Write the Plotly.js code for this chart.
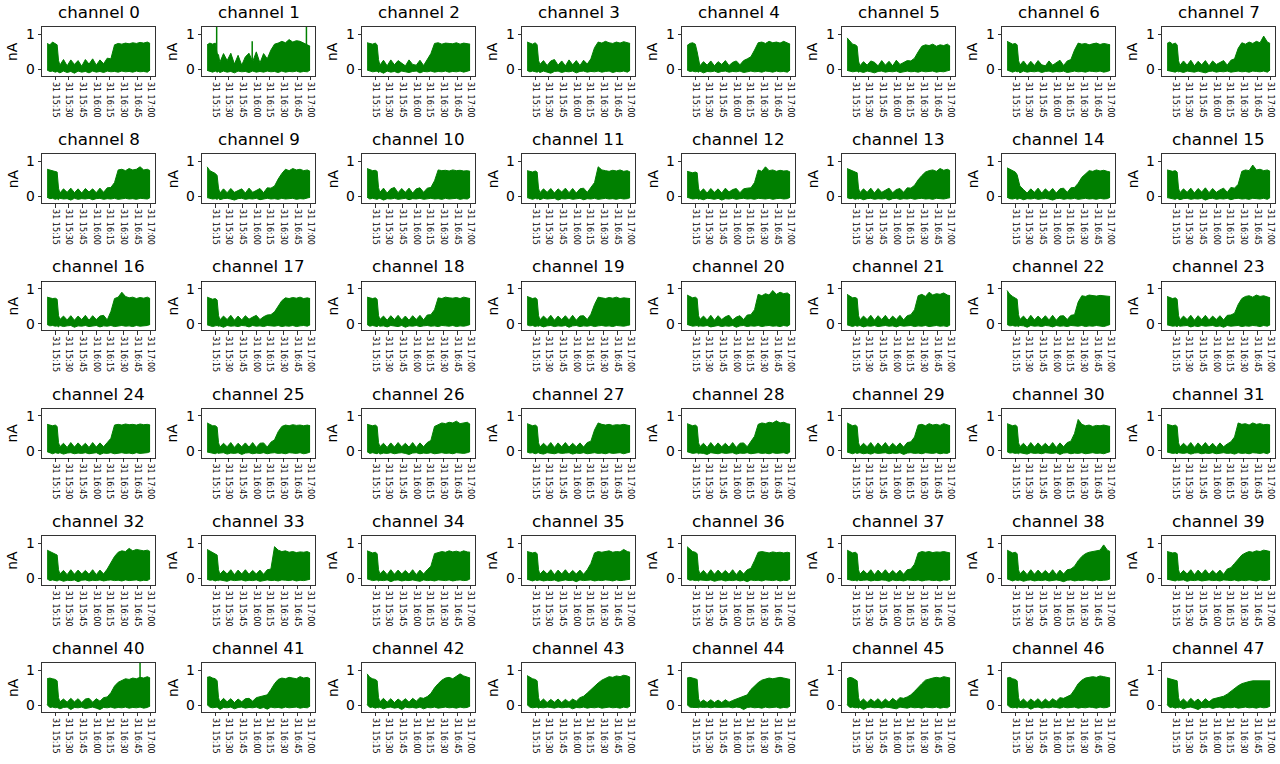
<!DOCTYPE html>
<html>
<head>
<meta charset="utf-8">
<script src="https://cdn.plot.ly/plotly-3.0.1.min.js"></script>
<style>html,body{margin:0;padding:0;background:#fff;}#chart{width:1280px;height:764px;}</style>
</head>
<body>
<div id="chart"></div>
<script>
// ---- data: per-bin upper / lower envelope of each channel's current (nA) ----
const DAY = '2021-05-31 ';
const times = ['15:06:00','15:09:00','15:12:00','15:15:00','15:17:00','15:18:30','15:20:00','15:24:00','15:28:00','15:32:00','15:36:00','15:40:00','15:44:00','15:48:00','15:52:00','15:56:00','16:00:00','16:04:00','16:08:00','16:12:00','16:16:00','16:20:00','16:24:00','16:28:00','16:32:00','16:36:00','16:40:00','16:44:00','16:48:00','16:52:00','16:56:00','16:59:00'];
const tickLabels = ['31 15:15','31 15:30','31 15:45','31 16:00','31 16:15','31 16:30','31 16:45','31 17:00'];
const tickTimes = ['15:15:00','15:30:00','15:45:00','16:00:00','16:15:00','16:30:00','16:45:00','17:00:00'];

const ch0_hi=[0.74,0.70,0.78,0.72,0.70,0.26,0.12,0.28,0.10,0.27,0.14,0.25,0.09,0.28,0.15,0.30,0.12,0.27,0.16,0.32,0.30,0.70,0.74,0.72,0.75,0.73,0.76,0.74,0.77,0.75,0.78,0.74];
const ch0_lo=[-0.02,-0.06,-0.05,-0.08,-0.06,-0.08,-0.10,-0.05,-0.09,-0.06,-0.11,-0.05,-0.08,-0.06,-0.10,-0.05,-0.08,-0.06,-0.09,-0.05,-0.07,-0.06,-0.08,-0.05,-0.07,-0.06,-0.08,-0.05,-0.07,-0.06,-0.08,-0.02];
const ch1_hi=[0.70,0.75,0.72,0.75,0.45,0.42,0.20,0.45,0.25,0.46,0.15,0.40,0.12,0.36,0.46,0.22,0.50,0.18,0.45,0.30,0.55,0.72,0.75,0.80,0.76,0.85,0.78,0.82,0.80,0.76,0.70,0.66];
const ch1_lo=[-0.03,-0.06,-0.08,-0.05,-0.08,-0.06,-0.09,-0.05,-0.08,-0.06,-0.10,-0.05,-0.07,-0.06,-0.09,-0.05,-0.08,-0.06,-0.08,-0.05,-0.07,-0.06,-0.09,-0.05,-0.08,-0.06,-0.07,-0.05,-0.08,-0.06,-0.07,-0.02];
const ch2_hi=[0.76,0.74,0.72,0.75,0.70,0.28,0.12,0.26,0.10,0.27,0.13,0.25,0.18,0.10,0.27,0.14,0.12,0.26,0.11,0.28,0.45,0.74,0.76,0.72,0.75,0.74,0.73,0.76,0.72,0.75,0.74,0.72];
const ch2_lo=[-0.02,-0.05,-0.07,-0.06,-0.05,-0.09,-0.06,-0.11,-0.05,-0.08,-0.06,-0.10,-0.05,-0.07,-0.09,-0.06,-0.05,-0.10,-0.06,-0.07,-0.05,-0.08,-0.06,-0.07,-0.05,-0.08,-0.06,-0.07,-0.05,-0.08,-0.06,-0.03];
const ch3_hi=[0.78,0.75,0.72,0.76,0.70,0.26,0.14,0.25,0.11,0.24,0.28,0.12,0.24,0.10,0.27,0.13,0.25,0.11,0.26,0.15,0.30,0.62,0.78,0.75,0.80,0.76,0.74,0.78,0.75,0.79,0.76,0.74];
const ch3_lo=[-0.03,-0.07,-0.05,-0.06,-0.08,-0.06,-0.09,-0.05,-0.07,-0.11,-0.06,-0.05,-0.09,-0.06,-0.07,-0.05,-0.10,-0.06,-0.05,-0.08,-0.06,-0.07,-0.05,-0.08,-0.06,-0.05,-0.09,-0.06,-0.07,-0.05,-0.08,-0.03];
const ch4_hi=[0.68,0.74,0.76,0.72,0.50,0.28,0.10,0.22,0.12,0.24,0.10,0.22,0.14,0.25,0.11,0.20,0.24,0.13,0.25,0.30,0.36,0.55,0.76,0.78,0.74,0.80,0.76,0.78,0.75,0.80,0.76,0.72];
const ch4_lo=[-0.02,-0.06,-0.05,-0.07,-0.06,-0.08,-0.05,-0.10,-0.06,-0.07,-0.05,-0.09,-0.06,-0.05,-0.08,-0.06,-0.07,-0.05,-0.09,-0.06,-0.05,-0.07,-0.06,-0.08,-0.05,-0.06,-0.08,-0.05,-0.07,-0.06,-0.08,-0.02];
const ch5_hi=[0.90,0.80,0.72,0.70,0.66,0.24,0.10,0.22,0.12,0.24,0.20,0.10,0.25,0.12,0.23,0.10,0.26,0.14,0.20,0.25,0.24,0.32,0.50,0.66,0.70,0.68,0.72,0.66,0.70,0.68,0.72,0.66];
const ch5_lo=[-0.03,-0.05,-0.07,-0.06,-0.05,-0.08,-0.06,-0.09,-0.05,-0.07,-0.10,-0.06,-0.05,-0.08,-0.06,-0.07,-0.05,-0.09,-0.06,-0.05,-0.07,-0.06,-0.08,-0.05,-0.07,-0.06,-0.05,-0.08,-0.06,-0.07,-0.05,-0.02];
const ch6_hi=[0.80,0.76,0.72,0.74,0.70,0.26,0.12,0.24,0.10,0.23,0.11,0.25,0.13,0.10,0.24,0.12,0.20,0.26,0.11,0.24,0.28,0.55,0.75,0.72,0.74,0.70,0.73,0.75,0.71,0.74,0.72,0.70];
const ch6_lo=[-0.02,-0.06,-0.08,-0.05,-0.07,-0.06,-0.10,-0.05,-0.08,-0.06,-0.07,-0.05,-0.09,-0.06,-0.05,-0.08,-0.06,-0.07,-0.05,-0.09,-0.06,-0.05,-0.07,-0.06,-0.08,-0.05,-0.06,-0.07,-0.05,-0.08,-0.06,-0.03];
const ch7_hi=[0.74,0.78,0.72,0.75,0.70,0.25,0.11,0.24,0.12,0.26,0.10,0.23,0.13,0.25,0.10,0.24,0.14,0.19,0.25,0.12,0.26,0.30,0.60,0.76,0.72,0.78,0.74,0.80,0.76,0.95,0.78,0.74];
const ch7_lo=[-0.03,-0.05,-0.06,-0.08,-0.05,-0.07,-0.06,-0.09,-0.05,-0.06,-0.08,-0.05,-0.07,-0.10,-0.06,-0.05,-0.08,-0.06,-0.07,-0.05,-0.08,-0.06,-0.05,-0.07,-0.06,-0.08,-0.05,-0.06,-0.07,-0.05,-0.08,-0.02];

const ch8_hi=[0.78,0.76,0.74,0.72,0.70,0.24,0.10,0.22,0.12,0.24,0.11,0.22,0.10,0.23,0.13,0.22,0.11,0.24,0.12,0.25,0.26,0.40,0.76,0.78,0.74,0.80,0.76,0.78,0.85,0.76,0.78,0.74];
const ch8_lo=[-0.02,-0.06,-0.05,-0.08,-0.06,-0.09,-0.05,-0.07,-0.06,-0.10,-0.05,-0.08,-0.06,-0.07,-0.05,-0.09,-0.06,-0.05,-0.08,-0.06,-0.07,-0.05,-0.08,-0.06,-0.05,-0.07,-0.06,-0.08,-0.05,-0.06,-0.07,-0.03];
const ch9_hi=[0.85,0.74,0.70,0.66,0.60,0.24,0.10,0.22,0.11,0.23,0.12,0.17,0.22,0.10,0.24,0.12,0.18,0.23,0.11,0.25,0.24,0.30,0.50,0.66,0.78,0.74,0.80,0.76,0.78,0.74,0.76,0.72];
const ch9_lo=[-0.03,-0.05,-0.07,-0.06,-0.08,-0.05,-0.09,-0.06,-0.05,-0.07,-0.10,-0.06,-0.05,-0.08,-0.06,-0.07,-0.05,-0.09,-0.06,-0.05,-0.07,-0.06,-0.08,-0.05,-0.07,-0.06,-0.05,-0.08,-0.06,-0.07,-0.05,-0.02];
const ch10_hi=[0.80,0.76,0.74,0.75,0.72,0.26,0.12,0.24,0.10,0.22,0.26,0.11,0.23,0.12,0.24,0.10,0.22,0.25,0.12,0.24,0.26,0.45,0.76,0.74,0.75,0.73,0.76,0.74,0.75,0.73,0.74,0.72];
const ch10_lo=[-0.02,-0.07,-0.05,-0.06,-0.08,-0.06,-0.05,-0.10,-0.06,-0.07,-0.05,-0.08,-0.06,-0.05,-0.09,-0.06,-0.07,-0.05,-0.08,-0.06,-0.05,-0.07,-0.06,-0.08,-0.05,-0.07,-0.06,-0.05,-0.08,-0.06,-0.07,-0.02];
const ch11_hi=[0.74,0.72,0.70,0.73,0.70,0.24,0.11,0.22,0.12,0.23,0.10,0.22,0.13,0.24,0.11,0.23,0.10,0.22,0.24,0.12,0.25,0.40,0.85,0.76,0.74,0.72,0.75,0.73,0.76,0.72,0.74,0.70];
const ch11_lo=[-0.03,-0.06,-0.08,-0.05,-0.07,-0.06,-0.09,-0.05,-0.07,-0.06,-0.05,-0.10,-0.06,-0.07,-0.05,-0.08,-0.06,-0.05,-0.09,-0.06,-0.07,-0.05,-0.08,-0.06,-0.05,-0.07,-0.06,-0.08,-0.05,-0.07,-0.06,-0.03];
const ch12_hi=[0.72,0.70,0.68,0.70,0.68,0.24,0.12,0.22,0.10,0.23,0.12,0.22,0.10,0.24,0.13,0.20,0.23,0.11,0.22,0.24,0.25,0.40,0.76,0.72,0.85,0.74,0.76,0.72,0.75,0.73,0.74,0.70];
const ch12_lo=[-0.02,-0.05,-0.07,-0.06,-0.05,-0.08,-0.06,-0.09,-0.05,-0.06,-0.08,-0.05,-0.10,-0.06,-0.07,-0.05,-0.08,-0.06,-0.05,-0.07,-0.06,-0.08,-0.05,-0.06,-0.07,-0.05,-0.08,-0.06,-0.05,-0.07,-0.06,-0.02];
const ch13_hi=[0.80,0.76,0.72,0.70,0.68,0.24,0.11,0.22,0.12,0.24,0.10,0.23,0.12,0.18,0.24,0.11,0.20,0.23,0.12,0.25,0.24,0.32,0.48,0.60,0.70,0.74,0.76,0.72,0.80,0.75,0.78,0.74];
const ch13_lo=[-0.03,-0.06,-0.05,-0.08,-0.06,-0.07,-0.05,-0.09,-0.06,-0.05,-0.08,-0.06,-0.07,-0.05,-0.10,-0.06,-0.05,-0.08,-0.06,-0.07,-0.05,-0.08,-0.06,-0.05,-0.07,-0.06,-0.08,-0.05,-0.06,-0.07,-0.05,-0.03];
const ch14_hi=[0.82,0.78,0.74,0.70,0.62,0.45,0.30,0.20,0.10,0.22,0.12,0.24,0.10,0.22,0.12,0.23,0.10,0.22,0.24,0.12,0.25,0.26,0.38,0.55,0.66,0.74,0.72,0.76,0.73,0.75,0.72,0.70];
const ch14_lo=[-0.02,-0.06,-0.07,-0.05,-0.08,-0.06,-0.05,-0.09,-0.06,-0.07,-0.05,-0.08,-0.06,-0.05,-0.07,-0.10,-0.06,-0.05,-0.08,-0.06,-0.07,-0.05,-0.08,-0.06,-0.05,-0.07,-0.06,-0.08,-0.05,-0.07,-0.06,-0.02];
const ch15_hi=[0.76,0.75,0.72,0.74,0.70,0.24,0.11,0.22,0.12,0.24,0.10,0.23,0.13,0.25,0.11,0.23,0.12,0.19,0.24,0.12,0.26,0.24,0.35,0.72,0.76,0.74,0.90,0.76,0.78,0.74,0.76,0.72];
const ch15_lo=[-0.03,-0.05,-0.06,-0.08,-0.05,-0.07,-0.09,-0.06,-0.05,-0.08,-0.06,-0.07,-0.05,-0.10,-0.06,-0.05,-0.08,-0.06,-0.07,-0.05,-0.09,-0.06,-0.05,-0.07,-0.06,-0.08,-0.05,-0.06,-0.07,-0.05,-0.08,-0.03];

const ch16_hi=[0.76,0.74,0.72,0.73,0.70,0.24,0.12,0.22,0.11,0.23,0.10,0.22,0.12,0.24,0.10,0.23,0.12,0.22,0.24,0.11,0.35,0.72,0.76,0.90,0.78,0.74,0.76,0.72,0.75,0.73,0.76,0.72];
const ch16_lo=[-0.02,-0.06,-0.05,-0.07,-0.06,-0.09,-0.05,-0.08,-0.06,-0.05,-0.10,-0.06,-0.07,-0.05,-0.08,-0.06,-0.05,-0.09,-0.06,-0.07,-0.05,-0.08,-0.06,-0.05,-0.07,-0.06,-0.08,-0.05,-0.07,-0.06,-0.05,-0.02];
const ch17_hi=[0.76,0.74,0.70,0.72,0.68,0.24,0.11,0.22,0.12,0.24,0.10,0.22,0.11,0.23,0.13,0.19,0.24,0.12,0.20,0.25,0.26,0.34,0.52,0.66,0.74,0.72,0.75,0.73,0.76,0.72,0.74,0.72];
const ch17_lo=[-0.03,-0.05,-0.08,-0.06,-0.05,-0.07,-0.06,-0.10,-0.05,-0.07,-0.06,-0.08,-0.05,-0.06,-0.09,-0.05,-0.07,-0.06,-0.08,-0.05,-0.06,-0.07,-0.05,-0.08,-0.06,-0.07,-0.05,-0.08,-0.06,-0.05,-0.07,-0.03];
const ch18_hi=[0.76,0.74,0.72,0.74,0.70,0.24,0.12,0.22,0.10,0.23,0.12,0.24,0.11,0.22,0.10,0.23,0.12,0.24,0.11,0.25,0.26,0.40,0.74,0.72,0.76,0.74,0.73,0.75,0.72,0.76,0.74,0.72];
const ch18_lo=[-0.02,-0.07,-0.05,-0.06,-0.08,-0.05,-0.07,-0.06,-0.09,-0.05,-0.06,-0.08,-0.05,-0.10,-0.06,-0.07,-0.05,-0.08,-0.06,-0.05,-0.07,-0.06,-0.08,-0.05,-0.06,-0.07,-0.05,-0.08,-0.06,-0.07,-0.05,-0.02];
const ch19_hi=[0.78,0.75,0.72,0.74,0.70,0.24,0.11,0.22,0.12,0.24,0.10,0.22,0.12,0.23,0.11,0.24,0.10,0.22,0.23,0.12,0.27,0.55,0.76,0.74,0.72,0.75,0.73,0.76,0.72,0.74,0.73,0.72];
const ch19_lo=[-0.03,-0.06,-0.05,-0.08,-0.06,-0.07,-0.05,-0.09,-0.06,-0.05,-0.08,-0.06,-0.07,-0.05,-0.10,-0.06,-0.05,-0.08,-0.06,-0.07,-0.05,-0.08,-0.06,-0.05,-0.07,-0.06,-0.08,-0.05,-0.06,-0.07,-0.05,-0.03];
const ch20_hi=[0.82,0.78,0.74,0.76,0.72,0.24,0.12,0.22,0.11,0.24,0.10,0.23,0.12,0.20,0.24,0.11,0.19,0.23,0.12,0.25,0.26,0.40,0.84,0.80,0.86,0.82,0.95,0.84,0.90,0.86,0.88,0.82];
const ch20_lo=[-0.02,-0.05,-0.07,-0.06,-0.05,-0.08,-0.06,-0.07,-0.05,-0.09,-0.06,-0.05,-0.08,-0.06,-0.07,-0.05,-0.10,-0.06,-0.05,-0.08,-0.06,-0.07,-0.05,-0.08,-0.06,-0.05,-0.07,-0.06,-0.08,-0.05,-0.07,-0.02];
const ch21_hi=[0.84,0.78,0.74,0.75,0.72,0.24,0.11,0.22,0.12,0.24,0.10,0.23,0.12,0.24,0.10,0.22,0.12,0.24,0.11,0.23,0.26,0.40,0.80,0.84,0.78,0.90,0.82,0.86,0.84,0.88,0.82,0.80];
const ch21_lo=[-0.03,-0.06,-0.08,-0.05,-0.07,-0.06,-0.05,-0.09,-0.06,-0.07,-0.05,-0.08,-0.06,-0.05,-0.07,-0.06,-0.09,-0.05,-0.07,-0.06,-0.05,-0.08,-0.06,-0.07,-0.05,-0.08,-0.06,-0.05,-0.07,-0.06,-0.08,-0.03];
const ch22_hi=[0.95,0.84,0.78,0.74,0.70,0.26,0.12,0.22,0.10,0.24,0.11,0.22,0.12,0.23,0.11,0.24,0.10,0.22,0.23,0.12,0.24,0.26,0.62,0.80,0.78,0.82,0.80,0.79,0.81,0.80,0.80,0.78];
const ch22_lo=[-0.02,-0.06,-0.05,-0.07,-0.06,-0.08,-0.05,-0.06,-0.10,-0.05,-0.07,-0.06,-0.08,-0.05,-0.06,-0.09,-0.05,-0.07,-0.06,-0.08,-0.05,-0.06,-0.07,-0.05,-0.08,-0.06,-0.07,-0.05,-0.06,-0.08,-0.05,-0.02];
const ch23_hi=[0.78,0.76,0.72,0.74,0.70,0.24,0.11,0.22,0.12,0.24,0.10,0.23,0.12,0.24,0.11,0.22,0.12,0.23,0.11,0.24,0.25,0.30,0.55,0.72,0.78,0.80,0.76,0.82,0.78,0.80,0.76,0.74];
const ch23_lo=[-0.03,-0.05,-0.07,-0.06,-0.08,-0.05,-0.07,-0.06,-0.05,-0.09,-0.06,-0.08,-0.05,-0.07,-0.06,-0.05,-0.08,-0.06,-0.10,-0.05,-0.07,-0.06,-0.05,-0.08,-0.06,-0.07,-0.05,-0.06,-0.08,-0.05,-0.07,-0.03];

const ch24_hi=[0.76,0.74,0.72,0.74,0.70,0.24,0.12,0.22,0.10,0.24,0.11,0.23,0.12,0.22,0.10,0.24,0.11,0.23,0.12,0.24,0.36,0.74,0.76,0.74,0.77,0.75,0.76,0.74,0.77,0.75,0.76,0.74];
const ch24_lo=[-0.02,-0.06,-0.08,-0.05,-0.06,-0.07,-0.05,-0.09,-0.06,-0.05,-0.08,-0.06,-0.07,-0.05,-0.08,-0.06,-0.05,-0.10,-0.06,-0.07,-0.05,-0.08,-0.06,-0.05,-0.07,-0.06,-0.08,-0.05,-0.07,-0.06,-0.05,-0.02];
const ch25_hi=[0.80,0.76,0.72,0.72,0.68,0.24,0.11,0.22,0.12,0.24,0.10,0.22,0.12,0.23,0.11,0.24,0.10,0.22,0.23,0.11,0.25,0.32,0.55,0.70,0.74,0.72,0.75,0.73,0.74,0.72,0.74,0.72];
const ch25_lo=[-0.03,-0.05,-0.06,-0.08,-0.05,-0.07,-0.06,-0.05,-0.09,-0.06,-0.07,-0.05,-0.10,-0.06,-0.05,-0.08,-0.06,-0.07,-0.05,-0.08,-0.06,-0.05,-0.07,-0.06,-0.08,-0.05,-0.06,-0.07,-0.05,-0.08,-0.06,-0.03];
const ch26_hi=[0.76,0.74,0.72,0.74,0.70,0.24,0.12,0.22,0.10,0.23,0.11,0.24,0.12,0.22,0.11,0.24,0.10,0.23,0.12,0.24,0.30,0.70,0.76,0.80,0.78,0.82,0.80,0.85,0.78,0.80,0.82,0.76];
const ch26_lo=[-0.02,-0.07,-0.05,-0.06,-0.08,-0.05,-0.09,-0.06,-0.07,-0.05,-0.08,-0.06,-0.05,-0.07,-0.10,-0.06,-0.05,-0.08,-0.06,-0.07,-0.05,-0.08,-0.06,-0.05,-0.07,-0.06,-0.08,-0.05,-0.06,-0.07,-0.05,-0.02];
const ch27_hi=[0.78,0.76,0.72,0.74,0.70,0.24,0.11,0.22,0.12,0.24,0.10,0.23,0.12,0.24,0.11,0.22,0.12,0.23,0.11,0.24,0.28,0.60,0.80,0.76,0.74,0.76,0.73,0.75,0.74,0.76,0.73,0.72];
const ch27_lo=[-0.03,-0.06,-0.05,-0.08,-0.06,-0.05,-0.07,-0.09,-0.05,-0.06,-0.08,-0.05,-0.07,-0.06,-0.05,-0.09,-0.06,-0.07,-0.05,-0.08,-0.06,-0.05,-0.07,-0.06,-0.08,-0.05,-0.07,-0.06,-0.05,-0.08,-0.06,-0.03];
const ch28_hi=[0.78,0.76,0.72,0.74,0.70,0.24,0.12,0.22,0.10,0.24,0.11,0.23,0.12,0.22,0.11,0.24,0.10,0.22,0.23,0.12,0.26,0.42,0.76,0.80,0.78,0.82,0.80,0.86,0.80,0.82,0.78,0.76];
const ch28_lo=[-0.02,-0.05,-0.07,-0.06,-0.05,-0.08,-0.06,-0.07,-0.10,-0.05,-0.06,-0.08,-0.05,-0.07,-0.06,-0.05,-0.09,-0.06,-0.07,-0.05,-0.08,-0.06,-0.05,-0.07,-0.06,-0.08,-0.05,-0.07,-0.06,-0.05,-0.08,-0.02];
const ch29_hi=[0.80,0.76,0.72,0.74,0.70,0.24,0.11,0.22,0.12,0.24,0.10,0.23,0.12,0.24,0.10,0.22,0.12,0.23,0.11,0.24,0.26,0.40,0.74,0.76,0.72,0.78,0.74,0.76,0.73,0.78,0.74,0.72];
const ch29_lo=[-0.03,-0.06,-0.08,-0.05,-0.07,-0.06,-0.05,-0.08,-0.06,-0.09,-0.05,-0.07,-0.06,-0.05,-0.08,-0.06,-0.07,-0.05,-0.10,-0.06,-0.05,-0.07,-0.06,-0.08,-0.05,-0.06,-0.07,-0.05,-0.08,-0.06,-0.07,-0.03];
const ch30_hi=[0.78,0.76,0.72,0.74,0.70,0.24,0.12,0.22,0.10,0.24,0.11,0.23,0.12,0.22,0.11,0.24,0.10,0.23,0.12,0.24,0.28,0.50,0.90,0.76,0.72,0.74,0.70,0.73,0.72,0.74,0.71,0.70];
const ch30_lo=[-0.02,-0.06,-0.05,-0.07,-0.06,-0.08,-0.05,-0.06,-0.09,-0.05,-0.07,-0.06,-0.08,-0.05,-0.06,-0.07,-0.05,-0.10,-0.06,-0.05,-0.08,-0.06,-0.07,-0.05,-0.08,-0.06,-0.05,-0.07,-0.06,-0.08,-0.05,-0.02];
const ch31_hi=[0.76,0.74,0.72,0.74,0.70,0.24,0.11,0.22,0.12,0.24,0.10,0.23,0.12,0.24,0.11,0.22,0.10,0.23,0.12,0.20,0.26,0.40,0.80,0.76,0.78,0.74,0.80,0.76,0.78,0.75,0.76,0.74];
const ch31_lo=[-0.03,-0.05,-0.07,-0.06,-0.08,-0.05,-0.06,-0.07,-0.05,-0.09,-0.06,-0.05,-0.08,-0.06,-0.07,-0.05,-0.08,-0.06,-0.05,-0.07,-0.06,-0.09,-0.05,-0.07,-0.06,-0.08,-0.05,-0.06,-0.07,-0.05,-0.08,-0.03];

const ch32_hi=[0.80,0.76,0.72,0.70,0.66,0.24,0.12,0.22,0.10,0.24,0.11,0.23,0.12,0.22,0.11,0.24,0.10,0.23,0.12,0.26,0.45,0.62,0.74,0.78,0.76,0.85,0.78,0.82,0.80,0.78,0.80,0.76];
const ch32_lo=[-0.02,-0.07,-0.05,-0.06,-0.08,-0.06,-0.05,-0.09,-0.06,-0.07,-0.05,-0.10,-0.06,-0.05,-0.08,-0.06,-0.07,-0.05,-0.08,-0.06,-0.05,-0.07,-0.06,-0.08,-0.05,-0.07,-0.06,-0.05,-0.08,-0.06,-0.07,-0.02];
const ch33_hi=[0.82,0.78,0.72,0.70,0.66,0.24,0.11,0.22,0.12,0.24,0.10,0.23,0.12,0.24,0.11,0.22,0.12,0.23,0.11,0.24,0.26,0.90,0.80,0.76,0.78,0.74,0.76,0.73,0.75,0.74,0.76,0.72];
const ch33_lo=[-0.03,-0.06,-0.05,-0.08,-0.06,-0.07,-0.05,-0.06,-0.09,-0.05,-0.07,-0.06,-0.05,-0.08,-0.06,-0.07,-0.05,-0.09,-0.06,-0.05,-0.07,-0.06,-0.08,-0.05,-0.06,-0.07,-0.05,-0.08,-0.06,-0.07,-0.05,-0.03];
const ch34_hi=[0.78,0.76,0.72,0.74,0.70,0.24,0.12,0.22,0.10,0.24,0.11,0.23,0.12,0.22,0.11,0.24,0.10,0.23,0.12,0.24,0.34,0.70,0.74,0.76,0.74,0.78,0.75,0.77,0.74,0.78,0.75,0.74];
const ch34_lo=[-0.02,-0.05,-0.07,-0.06,-0.05,-0.08,-0.06,-0.07,-0.05,-0.10,-0.06,-0.05,-0.08,-0.06,-0.07,-0.05,-0.06,-0.09,-0.05,-0.07,-0.06,-0.08,-0.05,-0.06,-0.07,-0.05,-0.08,-0.06,-0.05,-0.07,-0.06,-0.02];
const ch35_hi=[0.76,0.74,0.72,0.74,0.70,0.24,0.11,0.22,0.12,0.24,0.10,0.23,0.12,0.24,0.11,0.22,0.12,0.23,0.11,0.24,0.42,0.72,0.76,0.74,0.75,0.78,0.74,0.76,0.75,0.82,0.76,0.74];
const ch35_lo=[-0.03,-0.06,-0.08,-0.05,-0.07,-0.06,-0.05,-0.08,-0.06,-0.07,-0.05,-0.09,-0.06,-0.05,-0.07,-0.06,-0.10,-0.05,-0.07,-0.06,-0.05,-0.08,-0.06,-0.07,-0.05,-0.06,-0.08,-0.05,-0.07,-0.06,-0.05,-0.03];
const ch36_hi=[0.90,0.82,0.76,0.74,0.70,0.24,0.12,0.22,0.10,0.24,0.11,0.23,0.12,0.22,0.11,0.24,0.10,0.23,0.12,0.24,0.28,0.50,0.74,0.76,0.74,0.72,0.75,0.73,0.74,0.72,0.74,0.72];
const ch36_lo=[-0.02,-0.06,-0.05,-0.07,-0.06,-0.08,-0.05,-0.06,-0.07,-0.05,-0.09,-0.06,-0.05,-0.08,-0.06,-0.07,-0.05,-0.08,-0.06,-0.10,-0.05,-0.07,-0.06,-0.08,-0.05,-0.06,-0.07,-0.05,-0.08,-0.06,-0.07,-0.02];
const ch37_hi=[0.80,0.76,0.72,0.74,0.70,0.24,0.11,0.22,0.12,0.24,0.10,0.23,0.12,0.24,0.11,0.22,0.12,0.23,0.11,0.24,0.26,0.40,0.72,0.76,0.74,0.76,0.73,0.75,0.74,0.76,0.73,0.72];
const ch37_lo=[-0.03,-0.05,-0.07,-0.06,-0.08,-0.05,-0.07,-0.06,-0.05,-0.08,-0.06,-0.07,-0.05,-0.06,-0.09,-0.05,-0.07,-0.06,-0.08,-0.05,-0.06,-0.07,-0.05,-0.08,-0.06,-0.05,-0.07,-0.06,-0.08,-0.05,-0.06,-0.03];
const ch38_hi=[0.80,0.76,0.72,0.74,0.70,0.24,0.12,0.22,0.10,0.24,0.11,0.23,0.12,0.22,0.11,0.24,0.10,0.23,0.12,0.24,0.26,0.34,0.50,0.62,0.70,0.74,0.76,0.78,0.80,0.95,0.80,0.76];
const ch38_lo=[-0.02,-0.06,-0.08,-0.05,-0.06,-0.07,-0.05,-0.09,-0.06,-0.05,-0.08,-0.06,-0.07,-0.05,-0.08,-0.06,-0.05,-0.07,-0.10,-0.06,-0.05,-0.08,-0.06,-0.07,-0.05,-0.06,-0.08,-0.05,-0.07,-0.06,-0.05,-0.02];
const ch39_hi=[0.76,0.74,0.72,0.73,0.70,0.24,0.11,0.22,0.12,0.24,0.10,0.23,0.12,0.24,0.11,0.22,0.12,0.23,0.11,0.26,0.30,0.42,0.55,0.66,0.72,0.76,0.74,0.78,0.76,0.80,0.78,0.76];
const ch39_lo=[-0.03,-0.05,-0.06,-0.08,-0.05,-0.07,-0.06,-0.05,-0.09,-0.06,-0.07,-0.05,-0.08,-0.06,-0.05,-0.07,-0.06,-0.08,-0.05,-0.06,-0.07,-0.05,-0.08,-0.06,-0.07,-0.05,-0.06,-0.08,-0.05,-0.07,-0.06,-0.03];

const ch40_hi=[0.76,0.78,0.76,0.74,0.70,0.22,0.10,0.18,0.09,0.20,0.10,0.19,0.08,0.18,0.20,0.09,0.19,0.12,0.22,0.24,0.36,0.55,0.66,0.72,0.76,0.74,0.78,0.76,0.80,0.78,0.82,0.78];
const ch40_lo=[0.02,-0.06,-0.05,-0.07,-0.06,-0.08,-0.10,-0.06,-0.05,-0.12,-0.06,-0.07,-0.05,-0.09,-0.06,-0.05,-0.08,-0.12,-0.06,-0.07,-0.05,-0.08,-0.06,-0.07,-0.05,-0.08,-0.06,-0.07,-0.05,-0.08,-0.06,-0.02];
const ch41_hi=[0.80,0.82,0.78,0.76,0.70,0.22,0.09,0.20,0.10,0.19,0.08,0.18,0.10,0.19,0.20,0.12,0.22,0.25,0.26,0.30,0.45,0.62,0.74,0.78,0.76,0.80,0.78,0.76,0.82,0.78,0.80,0.76];
const ch41_lo=[0.02,-0.05,-0.07,-0.06,-0.05,-0.08,-0.12,-0.06,-0.07,-0.05,-0.10,-0.06,-0.05,-0.08,-0.06,-0.07,-0.05,-0.09,-0.06,-0.11,-0.05,-0.07,-0.06,-0.08,-0.05,-0.07,-0.06,-0.05,-0.08,-0.06,-0.07,-0.02];
const ch42_hi=[0.90,0.80,0.76,0.74,0.70,0.22,0.10,0.20,0.09,0.19,0.08,0.18,0.10,0.19,0.09,0.20,0.12,0.22,0.20,0.25,0.34,0.50,0.62,0.72,0.78,0.80,0.76,0.82,0.90,0.84,0.80,0.78];
const ch42_lo=[0.02,-0.06,-0.05,-0.08,-0.06,-0.07,-0.05,-0.10,-0.06,-0.05,-0.08,-0.06,-0.12,-0.05,-0.07,-0.06,-0.08,-0.05,-0.10,-0.06,-0.07,-0.05,-0.08,-0.06,-0.05,-0.07,-0.06,-0.08,-0.05,-0.07,-0.06,-0.02];
const ch43_hi=[0.85,0.80,0.76,0.74,0.70,0.22,0.09,0.18,0.08,0.17,0.09,0.18,0.08,0.17,0.09,0.18,0.12,0.22,0.26,0.35,0.45,0.55,0.64,0.72,0.78,0.82,0.80,0.84,0.82,0.86,0.84,0.80];
const ch43_lo=[0.02,-0.05,-0.07,-0.06,-0.05,-0.08,-0.06,-0.07,-0.05,-0.06,-0.08,-0.05,-0.07,-0.06,-0.05,-0.10,-0.06,-0.07,-0.05,-0.08,-0.06,-0.07,-0.05,-0.08,-0.06,-0.05,-0.07,-0.06,-0.08,-0.05,-0.07,-0.02];
const ch44_hi=[0.78,0.80,0.78,0.76,0.74,0.20,0.08,0.15,0.08,0.16,0.08,0.15,0.08,0.16,0.09,0.14,0.18,0.20,0.24,0.30,0.45,0.55,0.65,0.72,0.76,0.78,0.76,0.78,0.80,0.78,0.76,0.74];
const ch44_lo=[0.02,-0.05,-0.06,-0.05,-0.06,-0.07,-0.05,-0.06,-0.05,-0.07,-0.05,-0.06,-0.05,-0.06,-0.05,-0.07,-0.05,-0.06,-0.12,-0.06,-0.05,-0.07,-0.06,-0.08,-0.05,-0.07,-0.06,-0.05,-0.08,-0.06,-0.07,-0.02];
const ch45_hi=[0.76,0.80,0.78,0.74,0.70,0.22,0.09,0.18,0.08,0.18,0.10,0.19,0.08,0.18,0.09,0.20,0.12,0.22,0.20,0.24,0.30,0.40,0.52,0.62,0.72,0.76,0.78,0.80,0.78,0.82,0.80,0.78];
const ch45_lo=[0.02,-0.06,-0.05,-0.07,-0.06,-0.08,-0.05,-0.12,-0.06,-0.05,-0.07,-0.06,-0.08,-0.05,-0.06,-0.07,-0.10,-0.05,-0.06,-0.08,-0.05,-0.07,-0.06,-0.08,-0.05,-0.06,-0.07,-0.05,-0.08,-0.06,-0.07,-0.02];
const ch46_hi=[0.78,0.80,0.76,0.74,0.70,0.22,0.09,0.18,0.08,0.18,0.10,0.19,0.08,0.18,0.09,0.19,0.12,0.22,0.20,0.24,0.30,0.45,0.62,0.72,0.78,0.80,0.82,0.80,0.84,0.82,0.80,0.78];
const ch46_lo=[0.02,-0.05,-0.07,-0.06,-0.08,-0.05,-0.06,-0.07,-0.05,-0.11,-0.06,-0.05,-0.08,-0.06,-0.07,-0.05,-0.06,-0.08,-0.05,-0.07,-0.06,-0.05,-0.08,-0.06,-0.07,-0.05,-0.06,-0.08,-0.05,-0.07,-0.06,-0.02];
const ch47_hi=[0.78,0.76,0.74,0.72,0.70,0.22,0.09,0.18,0.08,0.20,0.10,0.18,0.08,0.19,0.10,0.18,0.20,0.22,0.26,0.32,0.40,0.50,0.56,0.62,0.66,0.68,0.70,0.70,0.72,0.72,0.70,0.70];
const ch47_lo=[0.02,-0.06,-0.05,-0.08,-0.06,-0.07,-0.05,-0.10,-0.06,-0.05,-0.08,-0.12,-0.06,-0.07,-0.05,-0.09,-0.06,-0.05,-0.08,-0.06,-0.07,-0.05,-0.08,-0.06,-0.05,-0.07,-0.06,-0.08,-0.05,-0.07,-0.06,-0.02];

// isolated single-sample spikes
const spikeChannels = [1, 1, 1, 40];
const spikeTimes = ['15:16:30', '15:55:30', '16:55:00', '16:48:00'];
const spikeValues = [1.25, 0.80, 1.25, 1.25];

const upper = [ch0_hi,ch1_hi,ch2_hi,ch3_hi,ch4_hi,ch5_hi,ch6_hi,ch7_hi,ch8_hi,ch9_hi,ch10_hi,ch11_hi,ch12_hi,ch13_hi,ch14_hi,ch15_hi,ch16_hi,ch17_hi,ch18_hi,ch19_hi,ch20_hi,ch21_hi,ch22_hi,ch23_hi,ch24_hi,ch25_hi,ch26_hi,ch27_hi,ch28_hi,ch29_hi,ch30_hi,ch31_hi,ch32_hi,ch33_hi,ch34_hi,ch35_hi,ch36_hi,ch37_hi,ch38_hi,ch39_hi,ch40_hi,ch41_hi,ch42_hi,ch43_hi,ch44_hi,ch45_hi,ch46_hi,ch47_hi];
const lower = [ch0_lo,ch1_lo,ch2_lo,ch3_lo,ch4_lo,ch5_lo,ch6_lo,ch7_lo,ch8_lo,ch9_lo,ch10_lo,ch11_lo,ch12_lo,ch13_lo,ch14_lo,ch15_lo,ch16_lo,ch17_lo,ch18_lo,ch19_lo,ch20_lo,ch21_lo,ch22_lo,ch23_lo,ch24_lo,ch25_lo,ch26_lo,ch27_lo,ch28_lo,ch29_lo,ch30_lo,ch31_lo,ch32_lo,ch33_lo,ch34_lo,ch35_lo,ch36_lo,ch37_lo,ch38_lo,ch39_lo,ch40_lo,ch41_lo,ch42_lo,ch43_lo,ch44_lo,ch45_lo,ch46_lo,ch47_lo];

// ---- layout ----
const W = 1280, H = 764;
const NCOL = 8, NROW = 6;
const GREEN = '#008000';
const FONT = 'DejaVu Sans, sans-serif';
const xs = times.map(t => DAY + t);
const traces = [];
const layout = {
  width: W, height: H,
  margin: {l: 0, r: 0, t: 0, b: 0},
  paper_bgcolor: '#fff', plot_bgcolor: '#fff',
  showlegend: false,
  font: {family: FONT, color: '#000'},
  annotations: []
};

for (let i = 0; i < 48; i++) {
  const r = Math.floor(i / NCOL), c = i % NCOL;
  const left = 42 + 160 * c, right = left + 113;
  const top = 27 + 127.2 * r, bottom = top + 49;
  const xa = 'xaxis' + (i ? i + 1 : ''), ya = 'yaxis' + (i ? i + 1 : '');
  const xr = 'x' + (i ? i + 1 : ''), yr = 'y' + (i ? i + 1 : '');
  layout[xa] = {
    domain: [left / W, right / W], anchor: yr, type: 'date',
    range: [DAY + '15:00:24', DAY + '17:04:24'],
    tickvals: tickTimes.map(t => DAY + t), ticktext: tickLabels,
    tickangle: 90, tickfont: {size: 8, family: FONT, color: '#000'},
    ticks: 'outside', ticklen: 3.5, tickwidth: 0.8, tickcolor: '#000',
    showline: true, mirror: true, linecolor: '#000', linewidth: 0.8,
    showgrid: false, zeroline: false, fixedrange: true
  };
  layout[ya] = {
    domain: [1 - bottom / H, 1 - top / H], anchor: xr,
    range: [-0.19, 1.21], tickvals: [0, 1], ticktext: ['0', '1'],
    tickfont: {size: 13.9, family: FONT, color: '#000'},
    ticks: 'outside', ticklen: 3.5, tickwidth: 0.8, tickcolor: '#000',
    showline: true, mirror: true, linecolor: '#000', linewidth: 0.8,
    showgrid: false, zeroline: false, fixedrange: true
  };
  traces.push({x: xs, y: lower[i], xaxis: xr, yaxis: yr, type: 'scatter', mode: 'lines',
    line: {color: GREEN, width: 1}, hoverinfo: 'skip'});
  traces.push({x: xs, y: upper[i], xaxis: xr, yaxis: yr, type: 'scatter', mode: 'lines',
    fill: 'tonexty', fillcolor: GREEN, line: {color: GREEN, width: 1}, hoverinfo: 'skip'});
  const sx = [], sy = [];
  spikeChannels.forEach((ch, k) => {
    if (ch === i) { sx.push(DAY + spikeTimes[k], DAY + spikeTimes[k], null); sy.push(0.1, spikeValues[k], null); }
  });
  if (sx.length) traces.push({x: sx, y: sy, xaxis: xr, yaxis: yr, type: 'scatter', mode: 'lines',
    line: {color: GREEN, width: 1.5}, hoverinfo: 'skip', cliponaxis: true});
  layout.annotations.push({
    text: 'channel ' + i, xref: 'paper', yref: 'paper',
    x: (left + right) / 2 / W, y: 1 - top / H, xanchor: 'center', yanchor: 'bottom',
    yshift: 3, showarrow: false, font: {size: 16.7, family: FONT, color: '#000'}
  });
  layout.annotations.push({
    text: 'nA', xref: 'paper', yref: 'paper', textangle: -90,
    x: left / W, y: 1 - (top + bottom) / 2 / H, xanchor: 'center', yanchor: 'middle',
    xshift: -29.5, showarrow: false, font: {size: 13.9, family: FONT, color: '#000'}
  });
}

Plotly.newPlot('chart', traces, layout, {staticPlot: true, displayModeBar: false});
</script>
</body>
</html>
